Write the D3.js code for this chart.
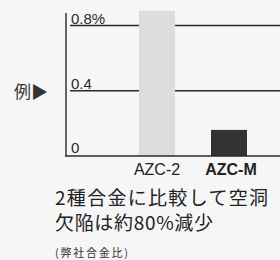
<!DOCTYPE html>
<html><head><meta charset="utf-8">
<script src="https://cdn.jsdelivr.net/npm/d3@7"></script>
<style>
html,body{margin:0;padding:0;background:#f6f6f6;}
svg{display:block;}
</style></head>
<body>
<script>
const categories = ["AZC-2", "AZC-M"];
const values = [0.89, 0.16];
const yTicks = [0, 0.4, 0.8];
const tickLabels = ["0", "0.4", "0.8%"];
const barColors = ["#dddddd", "#333333"];
const sideLabel = "例▶";
const captionLines = ["2種合金に比較して空洞", "欠陥は約80%減少"];
const note = "(弊社合金比)";

const W = 280, H = 260;
const svg = d3.select("body").append("svg").attr("width", W).attr("height", H);
svg.append("rect").attr("width", W).attr("height", H).attr("fill", "#f6f6f6");

const y = d3.scaleLinear().domain([0, 0.8]).range([156, 25.5]);
const x = d3.scaleBand().domain(categories).range([121, 265]).paddingInner(0.5).paddingOuter(0.25);
const sans = "Liberation Sans, Arial, sans-serif";
const cjk = "'Noto Sans CJK JP', sans-serif";

// gridlines
svg.append("g").selectAll("line").data(yTicks.filter(d => d > 0)).join("line")
  .attr("x1", 70).attr("x2", 280)
  .attr("y1", d => y(d)).attr("y2", d => y(d))
  .attr("stroke", "#2a2a2a").attr("stroke-width", 1.4);

// bars
svg.append("g").selectAll("rect").data(values).join("rect")
  .attr("x", (d, i) => x(categories[i]))
  .attr("width", x.bandwidth())
  .attr("y", d => y(d))
  .attr("height", d => y(0) - y(d))
  .attr("fill", (d, i) => barColors[i]);

// axes lines
svg.append("line").attr("x1", 66).attr("x2", 66).attr("y1", 13).attr("y2", y(0))
  .attr("stroke", "#2a2a2a").attr("stroke-width", 1.4);
svg.append("line").attr("x1", 65).attr("x2", 280).attr("y1", y(0)).attr("y2", y(0))
  .attr("stroke", "#2a2a2a").attr("stroke-width", 1.4);

// tick labels
svg.append("g").selectAll("text").data(yTicks).join("text")
  .attr("x", 71).attr("y", (d, i) => y(d) - (d === 0 ? 3 : 1.5))
  .attr("font-family", sans).attr("font-size", 15).attr("fill", "#2a2a2a")
  .text((d, i) => tickLabels[i]);

// category labels
svg.append("g").selectAll("text").data(categories).join("text")
  .attr("x", d => x(d) + x.bandwidth() / 2 + (d === "AZC-M" ? 2 : 0))
  .attr("y", 175)
  .attr("text-anchor", "middle")
  .attr("font-family", sans).attr("font-size", 16)
  .attr("font-weight", (d, i) => i === 1 ? "bold" : "normal")
  .attr("fill", "#222")
  .text(d => d);

// side label
svg.append("text").attr("x", 14).attr("y", 98)
  .attr("font-family", cjk).attr("font-size", 17).attr("fill", "#333")
  .text(sideLabel);

// caption
const capLens = [213, 158];
svg.append("g").selectAll("text").data(captionLines).join("text")
  .attr("x", 55).attr("y", (d, i) => 205 + i * 25)
  .attr("font-family", cjk).attr("font-size", 19).attr("fill", "#222")
  .attr("textLength", (d, i) => capLens[i]).attr("lengthAdjust", "spacing")
  .text(d => d);

svg.append("text").attr("x", 55).attr("y", 257)
  .attr("font-family", cjk).attr("font-size", 11).attr("fill", "#333")
  .attr("textLength", 73).attr("lengthAdjust", "spacing")
  .text(note);
</script>
</body></html>
